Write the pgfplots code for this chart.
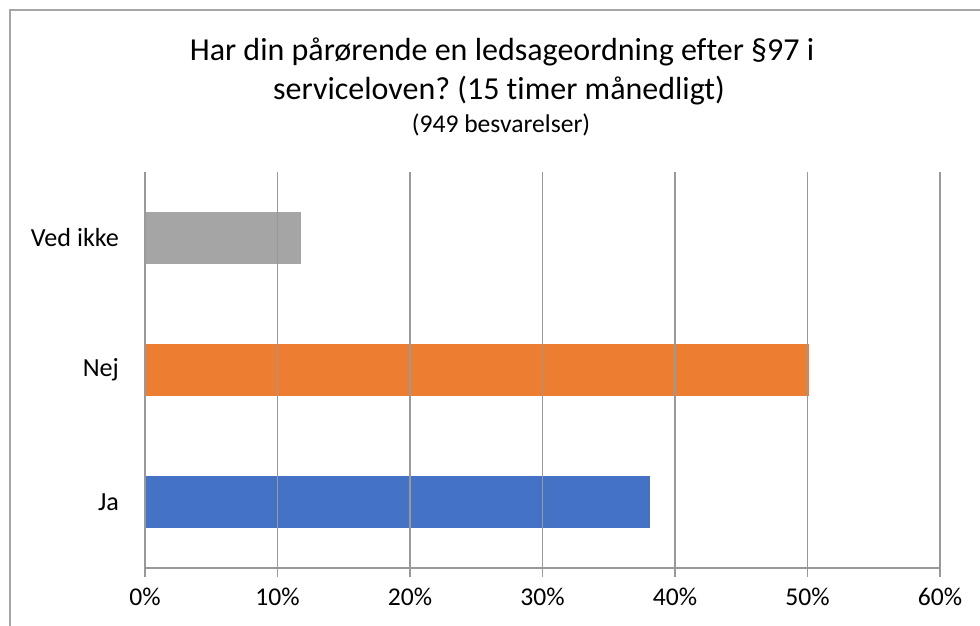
\documentclass[border=0pt]{standalone}
\usepackage{pgfplots}
\pgfplotsset{compat=1.18}
\usepackage{fontspec}
\setmainfont{Carlito}[Ligatures={NoCommon}]
\frenchspacing
\definecolor{cblue}{HTML}{4472C4}
\definecolor{corange}{HTML}{ED7D31}
\definecolor{cgray}{HTML}{A5A5A5}
\definecolor{gridc}{HTML}{999999}
\definecolor{framec}{HTML}{A6A6A6}
\begin{document}
\begin{tikzpicture}[x=0.75pt,y=0.75pt]
\useasboundingbox (0,0) rectangle (980,625);
\draw[framec, line width=1.1pt] (10,615) rectangle (1010,-30);
\node[anchor=base, font=\fontsize{24}{28}\selectfont] at (502,564.5) {Har din pårørende en ledsageordning efter §97 i};
\node[anchor=base, font=\fontsize{24}{28}\selectfont] at (499,525) {serviceloven? (15 timer månedligt)};
\node[anchor=base, font=\fontsize{19.2}{23}\selectfont] at (501,492) {(949 besvarelser)};
\begin{axis}[
  at={(108.75pt,42.75pt)}, anchor=south west,
  scale only axis, width=596.25pt, height=297pt,
  xbar, bar width=39.5pt, bar shift=0pt,
  xmin=0, xmax=60, ymin=-0.5, ymax=2.5,
  xtick={0,10,...,60},
  xticklabel={\pgfmathprintnumber{\tick}\%},
  /pgf/number format/assume math mode=true,
  ytick={0,1,2}, yticklabels={Ja,Nej,Ved ikke},
  ytick style={draw=none},
  extra y ticks={-0.5,0.5,1.5,2.5}, extra y tick labels={},
  extra y tick style={major tick length=6pt, tick style={draw=gridc, line width=1pt}},
  xtick pos=lower, ytick pos=left, tick align=outside,
  major tick length=6.5pt,
  xtick style={draw=gridc, line width=1pt},
  axis x line*=bottom, axis y line*=left,
  axis line style={-, draw=gridc, line width=1.2pt},
  xmajorgrids, grid style={draw=gridc, line width=1.05pt},
  axis on top,
  tick label style={text=black},
  yticklabel style={font=\fontsize{19.6}{23}\selectfont, xshift=-9.5pt},
  xticklabel style={font=\fontsize{19.2}{23}\selectfont, yshift=-5pt},
]
\addplot[fill=cblue, draw=none] coordinates {(38.1,0)};
\addplot[fill=corange, draw=none] coordinates {(50.1,1)};
\addplot[fill=cgray, draw=none] coordinates {(11.8,2)};
\end{axis}
\end{tikzpicture}
\end{document}
